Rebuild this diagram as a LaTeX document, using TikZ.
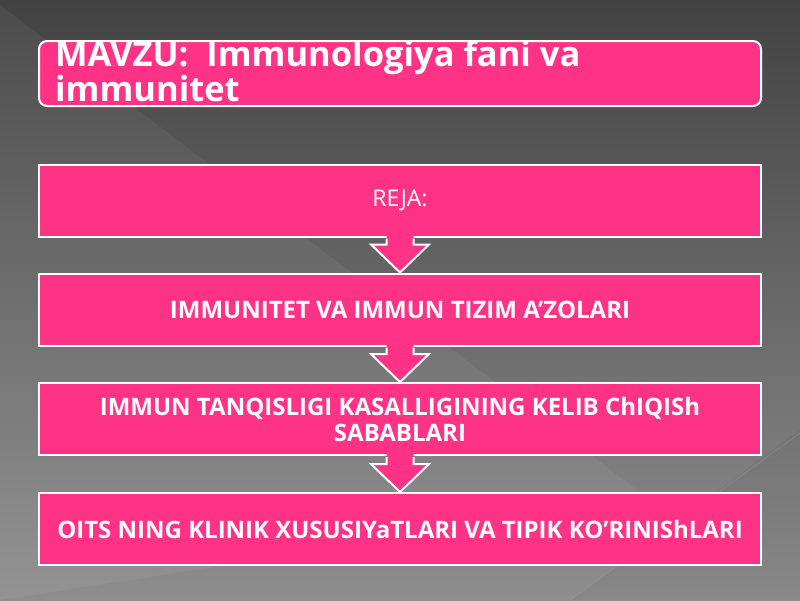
\documentclass[tikz,border=0pt]{standalone}
\usepackage{fontspec}
\setmainfont{Open Sans}
\usetikzlibrary{calc}
\definecolor{pinkbox}{RGB}{255,51,133}
\definecolor{bgtop}{RGB}{66,66,66}
\definecolor{bgbot}{RGB}{142,142,142}
\tikzset{
  box/.style={draw=white, line width=2pt, fill=pinkbox, minimum width=722pt, minimum height=72pt, inner sep=0pt, text=white, align=center, font=\bfseries\fontsize{24}{26}\selectfont},
  titlebox/.style={box, rounded corners=8pt, minimum height=65pt},
  titletext/.style={anchor=base west, text=white, font=\bfseries\fontsize{34.5}{35}\selectfont, inner sep=0pt},
  arrowfill/.style={fill=pinkbox},
  arrowline/.style={draw=white, line width=2pt, line join=miter},
}
\newcommand\blockarrow[2]{%
  \path[arrowfill] let \p1=(#1.south), \p2=(#2.north) in
    (\x1-13.5pt,\y1+2pt) -- (\x1-13.5pt,\y2+28pt) -- (\x1-29pt,\y2+28pt) -- (\p2)
    -- (\x1+29pt,\y2+28pt) -- (\x1+13.5pt,\y2+28pt) -- (\x1+13.5pt,\y1+2pt) -- cycle;
  \path[arrowline] let \p1=(#1.south), \p2=(#2.north) in
    (\x1-13.5pt,\y1-1pt) -- (\x1-13.5pt,\y2+28pt) -- (\x1-29pt,\y2+28pt) -- (\p2)
    -- (\x1+29pt,\y2+28pt) -- (\x1+13.5pt,\y2+28pt) -- (\x1+13.5pt,\y1-1pt);
}
\begin{document}
\begin{tikzpicture}[x=1pt,y=-1pt]
\useasboundingbox (0,0) rectangle (800,600);
\shade[top color=bgtop, bottom color=bgbot] (0,0) rectangle (800,600);
\fill[white, opacity=0.05] (0,5) -- (650,500) -- (0,600) -- cycle;
\fill[black, opacity=0.04] (800,430) -- (570,600) -- (800,600) -- cycle;
\draw[white, opacity=0.12, line width=0.6pt] (800,433) -- (570,600);

\node[titlebox] (title) at (400,73.5) {};
\begin{scope}
\clip (40,42) rectangle (760,106);
\node[titletext] (t1) at (55,66.5) {MAVZU:\ \ Immunologiya fani va};
\node[titletext] (t2) at (55,101.5) {immunitet};
\end{scope}

\node[box, font=\fontsize{23}{26}\selectfont] (reja) at (400,200.5) {REJA:};
\node[box] (b2) at (400,309.5) {IMMUNITET VA IMMUN TIZIM A’ZOLARI};
\node[box] (b3) at (400,419) {IMMUN TANQISLIGI KASALLIGINING KELIB ChIQISh\\SABABLARI};
\node[box] (b4) at (400,529) {OITS NING KLINIK XUSUSIYaTLARI VA TIPIK KO’RINIShLARI};

\blockarrow{reja}{b2}
\blockarrow{b2}{b3}
\blockarrow{b3}{b4}
\end{tikzpicture}
\end{document}
